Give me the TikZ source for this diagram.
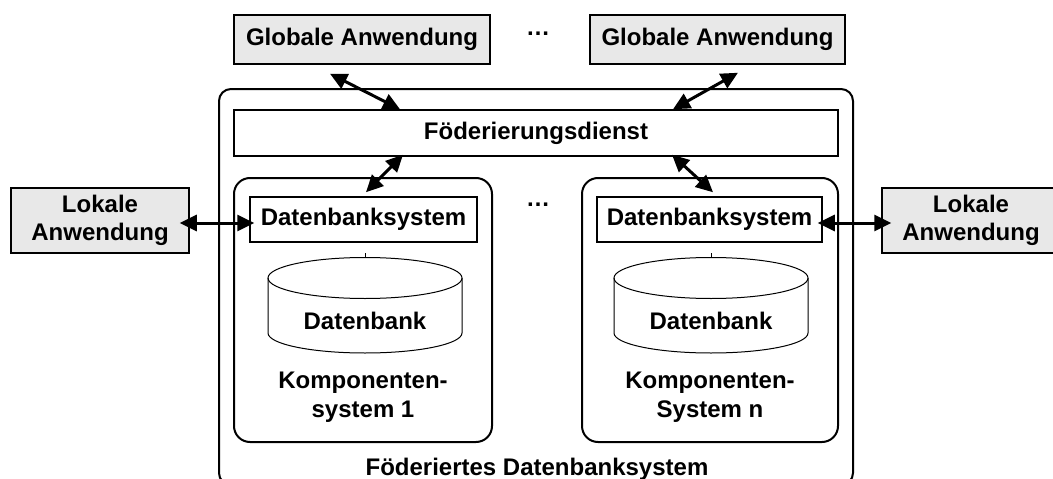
\documentclass[tikz,border=0pt]{standalone}
\usepackage{fontspec}
\setmainfont{Liberation Sans}
\usetikzlibrary{arrows.meta}
\begin{document}
\begin{tikzpicture}[x=1pt,y=-1pt,
  every node/.style={font=\fontsize{24}{28.5}\selectfont\bfseries, inner sep=0pt, align=center},
  appbox/.style={draw, line width=1.5pt, fill=gray!18},
  plainbox/.style={draw, line width=1.5pt, fill=white},
  roundbox/.style={draw, line width=2pt, rounded corners=16pt},
  arr/.style={line width=3pt, {Triangle[length=17pt,width=16pt]}-{Triangle[length=17pt,width=16pt]}},
  dbline/.style={line width=1pt}
]
\useasboundingbox (0,0) rectangle (1053,479);

% outer frame of the federated system
\draw[line width=2pt, rounded corners=12pt] (219,89) rectangle (853,485);
\node (fdbs) at (537,469) {Föderiertes Datenbanksystem};

% global applications
\node[appbox, minimum width=256pt, minimum height=49pt] (ga1) at (362,39.5) {Globale Anwendung};
\node[appbox, minimum width=255pt, minimum height=49pt] (ga2) at (717.5,39.5) {Globale Anwendung};
\node (dotsA) at (538,34) {…};

% federation service
\node[plainbox, minimum width=604pt, minimum height=46pt] (fd) at (536,133) {Föderierungsdienst};

% component systems
\node[roundbox, minimum width=258pt, minimum height=264pt] (cs1) at (363,310) {};
\node[roundbox, minimum width=256pt, minimum height=264pt] (cs2) at (710,310) {};
\node (dotsB) at (538,205) {…};

\node[plainbox, minimum width=227pt, minimum height=45pt] (dbs1) at (363.5,219.5) {Datenbanksystem};
\node[plainbox, minimum width=225pt, minimum height=45pt] (dbs2) at (709.5,219.5) {Datenbanksystem};

% databases (cylinders)
\draw[dbline] (268,278) -- (268,333) arc[start angle=180, end angle=0, x radius=97, y radius=20] -- (462,278);
\draw[dbline] (365,278) ellipse[x radius=97, y radius=20.5];
\draw[line width=0.4pt] (365,253) -- (365,257.5);
\node (db1) at (365,321) {Datenbank};

\draw[dbline] (614,278) -- (614,333) arc[start angle=180, end angle=0, x radius=97, y radius=20] -- (808,278);
\draw[dbline] (711,278) ellipse[x radius=97, y radius=20.5];
\draw[line width=0.4pt] (711,253) -- (711,257.5);
\node (db2) at (711,321) {Datenbank};

\node (k1) at (363,397) {Komponenten-\\system 1};
\node (k2) at (710,397) {Komponenten-\\System n};

% local applications
\node[appbox, minimum width=178pt, minimum height=65pt] (la1) at (100,220.5) {Lokale\\Anwendung};
\node[appbox, minimum width=178pt, minimum height=65pt] (la2) at (971,220.5) {Lokale\\Anwendung};

% connections
\draw[arr] ([xshift=-32pt,yshift=-9pt]ga1.south) -- ([xshift=-136pt]fd.north);
\draw[arr] ([xshift=20.5pt,yshift=-8pt]ga2.south) -- ([xshift=137pt]fd.north);
\draw[arr] ([xshift=-133pt,yshift=2pt]fd.south) -- ([xshift=2.5pt,yshift=4pt]dbs1.north);
\draw[arr] ([xshift=136pt,yshift=2pt]fd.south) -- ([xshift=3.5pt,yshift=4pt]dbs2.north);
\draw[arr] ([xshift=-10pt,yshift=-2.5pt]la1.east) -- ([xshift=5pt,yshift=-3.5pt]dbs1.west);
\draw[arr] ([xshift=-5pt,yshift=-3.5pt]dbs2.east) -- ([xshift=10pt,yshift=-2.5pt]la2.west);
\end{tikzpicture}
\end{document}
